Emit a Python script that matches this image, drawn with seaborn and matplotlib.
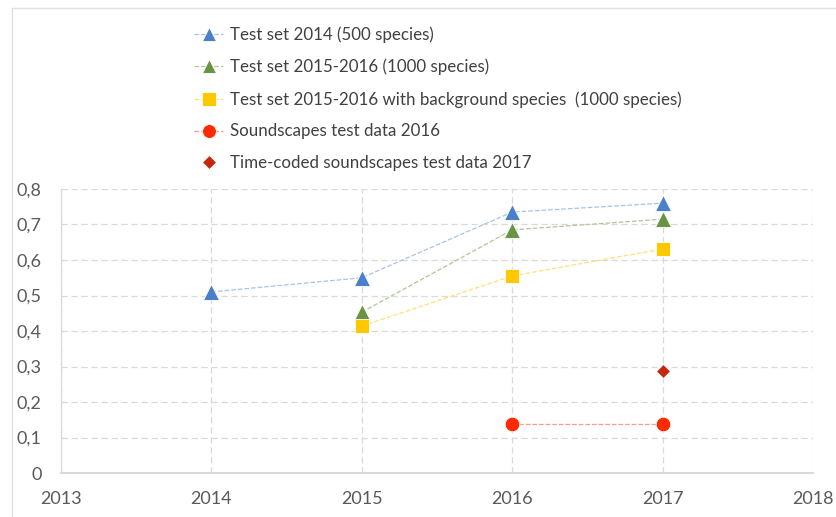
import matplotlib
matplotlib.use("Agg")
import matplotlib.pyplot as plt
import seaborn as sns
import pandas as pd
from matplotlib.lines import Line2D

sns.set_theme(style="white")
plt.rcParams['font.family'] = ['Lato', 'DejaVu Sans']

# Data
years_2014 = [2014, 2015, 2016, 2017]
vals_2014 = [0.51, 0.55, 0.735, 0.76]
years_1000 = [2015, 2016, 2017]
vals_1000 = [0.453, 0.685, 0.715]
years_bg = [2015, 2016, 2017]
vals_bg = [0.414, 0.555, 0.631]
years_sound = [2016, 2017]
vals_sound = [0.138, 0.138]
years_tc = [2017]
vals_tc = [0.287]

labels = [
    "Test set 2014 (500 species)",
    "Test set 2015-2016 (1000 species)",
    "Test set 2015-2016 with background species  (1000 species)",
    "Soundscapes test data 2016",
    "Time-coded soundscapes test data 2017",
]
x_ticks = [2013, 2014, 2015, 2016, 2017, 2018]
y_ticks = [0, 0.1, 0.2, 0.3, 0.4, 0.5, 0.6, 0.7, 0.8]
y_ticklabels = ["0", "0,1", "0,2", "0,3", "0,4", "0,5", "0,6", "0,7", "0,8"]

series = [
    (years_2014, vals_2014, "#4A7FC9", "#A9C2E8", "^", 11),
    (years_1000, vals_1000, "#6A9443", "#AFC79A", "^", 11),
    (years_bg, vals_bg, "#FFC800", "#FFE07A", "s", 10.5),
    (years_sound, vals_sound, "#FF2A00", "#FF9A88", "o", 10.5),
    (years_tc, vals_tc, "#C8260A", "#C8260A", "D", 7),
]

fig = plt.figure(figsize=(8.36, 5.17), dpi=100)
ax = fig.add_axes([61 / 836, 1 - 473 / 517, (813 - 61) / 836, (473 - 189) / 517])

handles = []
for (xs, ys, dark, light, mk, ms), lab in zip(series, labels):
    df = pd.DataFrame({"year": xs, "value": ys})
    ls = "--" if len(xs) > 1 else "none"
    sns.lineplot(data=df, x="year", y="value", ax=ax, color=light, linestyle=ls,
                 linewidth=0.9, marker=mk, markersize=ms, markerfacecolor=dark,
                 markeredgecolor="white", markeredgewidth=0.6, zorder=3,
                 label=lab, legend=False)
    handles.append(Line2D([0], [0], color=light if len(xs) > 1 else "none",
                          linestyle="--", linewidth=0.9, marker=mk,
                          markersize=ms * 0.95, markerfacecolor=dark,
                          markeredgecolor="white", markeredgewidth=0.6))

ax.set_xlim(2013, 2018)
ax.set_ylim(0, 0.8)
ax.set_xticks(x_ticks)
ax.set_xticklabels([str(t) for t in x_ticks])
ax.set_yticks(y_ticks)
ax.set_yticklabels(y_ticklabels)
ax.set_xlabel("")
ax.set_ylabel("")
ax.grid(True, color="#D9D9D9", linestyle=(0, (5, 3)), linewidth=0.9)
ax.set_axisbelow(True)
for s in ["top", "right"]:
    ax.spines[s].set_visible(False)
ax.spines["left"].set_color("#D9D9D9")
ax.spines["left"].set_linewidth(0.9)
ax.spines["bottom"].set_color("#D9D9D9")
ax.spines["bottom"].set_linewidth(1.4)
ax.tick_params(axis="both", length=0, labelsize=13, labelcolor="#595959")
ax.tick_params(axis="x", pad=13)
ax.tick_params(axis="y", pad=14)

fig.legend(handles, labels, loc="upper left", bbox_to_anchor=(186 / 836, 1 - 18 / 517),
           frameon=False, fontsize=12.2, labelcolor="#404040", handlelength=1.7,
           handletextpad=0.4, labelspacing=0.93, borderpad=0)

# outer chart border
fig.add_artist(Line2D([12 / 836, 12 / 836], [0, 1 - 8 / 517], transform=fig.transFigure,
                      color="#E0E0E0", linewidth=1))
fig.add_artist(Line2D([12 / 836, 1], [1 - 8 / 517, 1 - 8 / 517], transform=fig.transFigure,
                      color="#E0E0E0", linewidth=1))

fig.savefig("out.png", dpi=100)
